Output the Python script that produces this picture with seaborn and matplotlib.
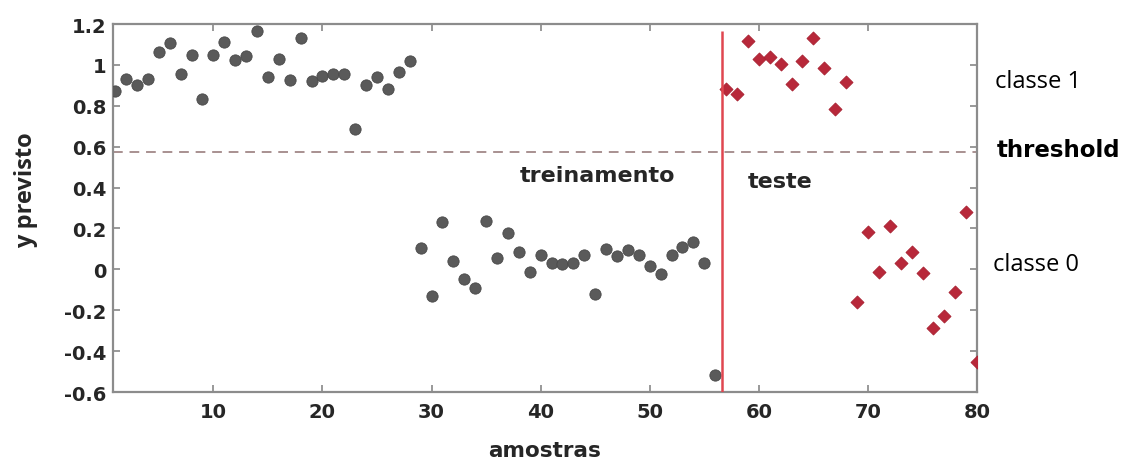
import numpy as np
import pandas as pd
import matplotlib
matplotlib.use("Agg")
import matplotlib.pyplot as plt
import seaborn as sns

# Predicted outputs for the training samples (1..56)
train_x = list(range(1, 57))
train_y = [0.874, 0.931, 0.902, 0.931, 1.065, 1.107, 0.955, 1.048, 0.835, 1.048,
           1.110, 1.025, 1.045, 1.164, 0.939, 1.030, 0.926, 1.131, 0.920, 0.944,
           0.955, 0.954, 0.685, 0.903, 0.941, 0.882, 0.967, 1.020,
           0.104, -0.129, 0.230, 0.042, -0.048, -0.092, 0.238, 0.057, 0.176, 0.085,
           -0.012, 0.070, 0.029, 0.024, 0.029, 0.068, -0.122, 0.101, 0.065, 0.096,
           0.068, 0.015, -0.023, 0.071, 0.110, 0.132, 0.031, -0.519]

# Predicted outputs for the test samples (57..80)
test_x = list(range(57, 81))
test_y = [0.882, 0.858, 1.117, 1.027, 1.037, 1.004, 0.906, 1.019, 1.132, 0.983,
          0.784, 0.918,
          -0.162, 0.181, -0.015, 0.210, 0.029, 0.085, -0.020, -0.286, -0.227,
          -0.110, 0.280, -0.454]

threshold = 0.572
split_at = 56.6

x_ticks = [10, 20, 30, 40, 50, 60, 70, 80]
y_ticks = [-0.6, -0.4, -0.2, 0, 0.2, 0.4, 0.6, 0.8, 1, 1.2]
y_tick_labels = ["-0.6", "-0.4", "-0.2", "0", "0.2", "0.4", "0.6", "0.8", "1", "1.2"]

train_df = pd.DataFrame({"amostras": train_x, "y": train_y})
test_df = pd.DataFrame({"amostras": test_x, "y": test_y})

sns.set_theme(style="white")
plt.rcParams["font.family"] = ["DejaVu Sans"]

fig = plt.figure(figsize=(11.34, 4.64), dpi=100)
ax = fig.add_axes([0.0996, 0.153, 0.7620, 0.793])

sns.scatterplot(data=train_df, x="amostras", y="y", ax=ax, color="#5a5a5a",
                marker="o", s=66, edgecolor="#4a4a4a", linewidth=0.6, zorder=3)
sns.scatterplot(data=test_df, x="amostras", y="y", ax=ax, color="#b8283a",
                marker="D", s=44, edgecolor="#a82030", linewidth=0.6, zorder=3)

ax.axhline(threshold, color="#a89090", linestyle=(0, (5, 3.5)), linewidth=1.4, zorder=2)
ax.vlines(split_at, -0.6, 1.167, color="#e04650", linewidth=1.8, zorder=4)

ax.set_xlim(0.8, 80)
ax.set_ylim(-0.6, 1.2)
ax.set_xticks(x_ticks)
ax.set_xticklabels([str(t) for t in x_ticks], fontsize=14, fontweight="bold")
ax.set_yticks(y_ticks)
ax.set_yticklabels(y_tick_labels, fontsize=14, fontweight="bold")
ax.tick_params(direction="in", length=5, width=1.2, color="#888888",
               top=True, right=True, bottom=True, left=True,
               labeltop=False, labelright=False, pad=5)
ax.tick_params(axis="x", pad=7)

for sp in ax.spines.values():
    sp.set_color("#8c8c8c")
    sp.set_linewidth(1.6)

ax.set_xlabel("amostras", fontsize=15.5, fontweight="bold", labelpad=14)
ax.set_ylabel("")
fig.text(0.023, 0.59, "y previsto", rotation=90, fontsize=17, fontweight="bold",
         family="Open Sans", ha="center", va="center")

fig.text(0.527, 0.621, "treinamento", fontsize=16, fontweight="bold",
         ha="center", va="center")
fig.text(0.659, 0.608, "teste", fontsize=16, fontweight="bold",
         ha="left", va="center")

fig.text(0.877, 0.824, "classe 1", fontsize=17, family="Open Sans",
         color="black", ha="left", va="center")
fig.text(0.879, 0.675, "threshold", fontsize=16.5, fontweight="bold",
         color="black", ha="left", va="center")
fig.text(0.876, 0.429, "classe 0", fontsize=17, family="Open Sans",
         color="black", ha="left", va="center")

fig.savefig("out.png", dpi=100)
